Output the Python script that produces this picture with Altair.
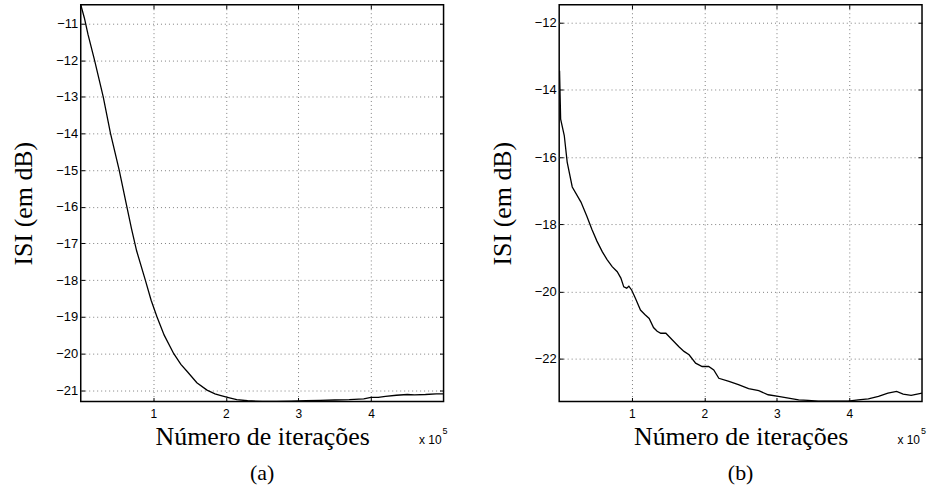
import altair as alt
import pandas as pd

# ---------------- data (x in units of 10^5 iterations, ISI in dB) ----------------
xa = [0.0, 0.05, 0.1, 0.19, 0.31, 0.41, 0.53, 0.62, 0.7, 0.77, 0.89, 0.97, 1.05, 1.15,
      1.28, 1.38, 1.47, 1.6, 1.74, 1.85, 1.92, 2.05, 2.15, 2.3, 2.5, 2.7, 2.9, 3.1, 3.3,
      3.5, 3.7, 3.9, 4.0, 4.1, 4.2, 4.35, 4.5, 4.6, 4.75, 4.9, 5.0]
ya = [-10.49, -10.85, -11.3, -12.0, -13.0, -14.0, -15.0, -15.85, -16.6, -17.2, -18.0,
      -18.55, -19.0, -19.5, -20.0, -20.3, -20.5, -20.8, -21.0, -21.1, -21.14, -21.21,
      -21.26, -21.29, -21.31, -21.31, -21.3, -21.29, -21.28, -21.27, -21.26, -21.24,
      -21.2, -21.2, -21.17, -21.14, -21.12, -21.13, -21.12, -21.1, -21.1]

xb = [0.005, 0.02, 0.07, 0.11, 0.18, 0.30, 0.38, 0.45, 0.52, 0.595, 0.66, 0.73, 0.80,
      0.85, 0.89, 0.93, 0.96, 1.0, 1.05, 1.12, 1.18, 1.24, 1.30, 1.35, 1.40, 1.47, 1.56,
      1.65, 1.72, 1.79, 1.88, 1.97, 2.06, 2.13, 2.20, 2.34, 2.47, 2.61, 2.75, 2.88, 3.02,
      3.16, 3.30, 3.43, 3.57, 3.75, 3.98, 4.12, 4.26, 4.40, 4.53, 4.65, 4.74, 4.85, 5.0]
yb = [-13.43, -14.87, -15.36, -16.15, -16.89, -17.34, -17.75, -18.15, -18.5, -18.82,
      -19.05, -19.26, -19.41, -19.6, -19.86, -19.9, -19.84, -19.96, -20.2, -20.55,
      -20.68, -20.8, -21.07, -21.18, -21.24, -21.24, -21.44, -21.64, -21.78, -21.88,
      -22.13, -22.23, -22.23, -22.33, -22.58, -22.67, -22.77, -22.89, -22.95, -23.07,
      -23.12, -23.17, -23.22, -23.24, -23.26, -23.26, -23.26, -23.22, -23.19, -23.12,
      -23.02, -22.97, -23.05, -23.09, -23.02]

x_ticks = [1, 2, 3, 4]
y_ticks_a = [-21, -20, -19, -18, -17, -16, -15, -14, -13, -12, -11]
y_ticks_b = [-22, -20, -18, -16, -14, -12]
x_domain = [0, 5]
y_domain_a = [-21.31, -10.49]
y_domain_b = [-23.27, -11.47]

x_title = "Número de iterações"
y_title = "ISI (em dB)"
panel_labels = ["(a)", "(b)"]

W, H = 364, 398
TK = 4  # inward tick length
SANS = "Liberation Sans"
SERIF = "Liberation Serif"
GRID = "#808080"


def panel(xs, ys, ydom, yticks, label):
    df = pd.DataFrame({"x": xs, "y": ys})
    xs_scale = alt.Scale(domain=x_domain, nice=False, zero=False)
    ys_scale = alt.Scale(domain=ydom, nice=False, zero=False)

    line = alt.Chart(df).mark_line(color="black", strokeWidth=1.3, clip=True).encode(
        x=alt.X("x:Q", scale=xs_scale,
                axis=alt.Axis(values=x_ticks, format="d", title=x_title, grid=True,
                              domain=False, ticks=True, tickSize=TK, tickColor="black",
                              offset=-TK, labelPadding=7, labelOverlap=False,
                              labelFont=SANS, labelFontSize=12, labelColor="black",
                              titleFont=SERIF, titleFontSize=26, titleFontWeight="normal",
                              titleColor="black", titleBaseline="alphabetic",
                              titleX=W / 2, titleY=43 + TK,
                              gridColor=GRID, gridDash=[1, 3], gridWidth=1)),
        y=alt.Y("y:Q", scale=ys_scale,
                axis=alt.Axis(values=yticks, format="d", title=y_title, grid=True,
                              domain=False, ticks=True, tickSize=TK, tickColor="black",
                              offset=-TK, labelPadding=3, labelOverlap=False,
                              labelFont=SANS, labelFontSize=13, labelColor="black",
                              titleFont=SERIF, titleFontSize=26, titleFontWeight="normal",
                              titleColor="black", titleBaseline="alphabetic",
                              titleAngle=270, titleX=-49 - TK, titleY=H / 2,
                              gridColor=GRID, gridDash=[1, 3], gridWidth=1)),
    )
    # second (invisible) layer that only carries the top / right axes with inward ticks
    mirror = alt.Chart(df).mark_line(strokeOpacity=0, clip=True).encode(
        x=alt.X("x:Q", scale=xs_scale,
                axis=alt.Axis(orient="top", values=x_ticks, labels=False, title=None,
                              grid=False, domain=False, ticks=True, tickSize=TK,
                              tickColor="black", offset=-TK)),
        y=alt.Y("y:Q", scale=ys_scale,
                axis=alt.Axis(orient="right", values=yticks, labels=False, title=None,
                              grid=False, domain=False, ticks=True, tickSize=TK,
                              tickColor="black", offset=-TK)),
    )

    txt = pd.DataFrame({"t": ["x 10"], "s": ["5"], "lab": [label]})
    mult = alt.Chart(txt).mark_text(font=SANS, fontSize=12, align="right",
                                    baseline="alphabetic", color="black").encode(
        text="t:N", x=alt.value(W - 2), y=alt.value(H + 43))
    sup = alt.Chart(txt).mark_text(font=SANS, fontSize=9, align="left",
                                   baseline="alphabetic", color="black").encode(
        text="s:N", x=alt.value(W - 1), y=alt.value(H + 33))
    lab = alt.Chart(txt).mark_text(font=SERIF, fontSize=22, align="center",
                                   baseline="alphabetic", color="black").encode(
        text="lab:N", x=alt.value(W / 2), y=alt.value(H + 79))

    return (alt.layer(line, mirror, mult, sup, lab)
            .resolve_axis(x="independent", y="independent")
            .properties(width=W, height=H))


left = panel(xa, ya, y_domain_a, y_ticks_a, panel_labels[0])
right = panel(xb, yb, y_domain_b, y_ticks_b, panel_labels[1])

chart = alt.hconcat(left, right, spacing=116, bounds="flush").properties(
    padding={"left": 10, "top": 2, "right": 0, "bottom": 0},
    background="white",
).configure_view(stroke="black", strokeWidth=1.5)

chart.save("out.html", embed_options={"renderer": "svg", "actions": False})
